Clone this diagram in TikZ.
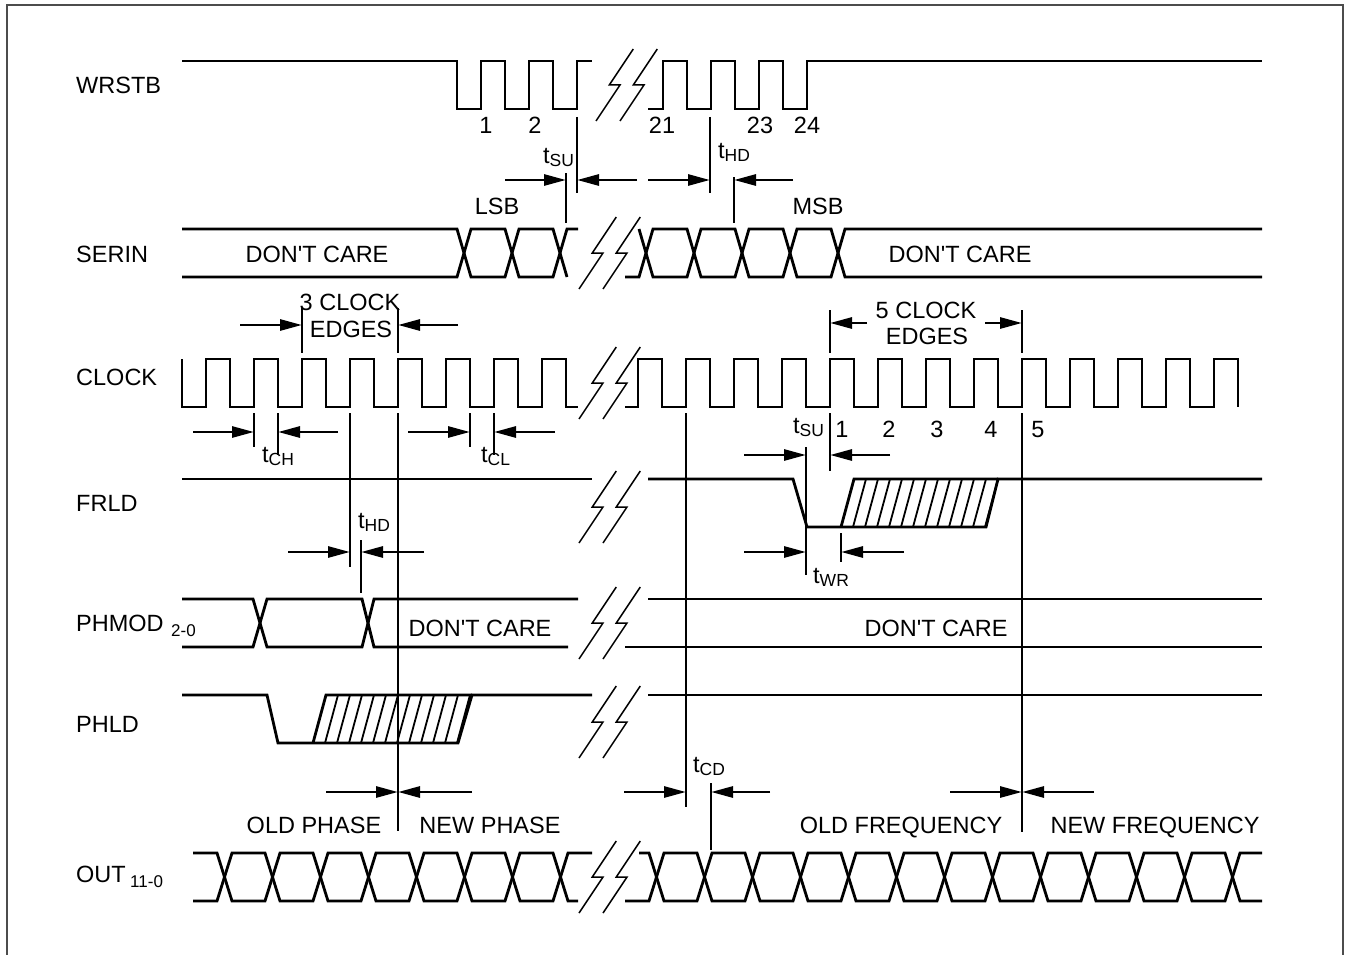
\documentclass[tikz,border=0pt]{standalone}
\usepackage{fontspec}
\setmainfont{Liberation Sans}[Ligatures=TeXOff]
\usetikzlibrary{arrows.meta}
\newcommand\tsub[1]{t\raisebox{-3pt}{\fontsize{17.5}{17.5}\selectfont #1}}
\newcommand\dontcare{DON'T CARE}
\newcommand\brkmark[2]{%
  \draw[brk] (#1,#2+36) -- (#1+24,#2) -- (#1+13.3,#2) -- (#1+37.3,#2-36);
  \draw[brk] (#1+24,#2+36) -- (#1+48,#2) -- (#1+37.3,#2) -- (#1+61.3,#2-36);}
\begin{document}
\begin{tikzpicture}[x=1pt,y=-1pt,
  sig/.style={line width=2.8pt, line join=miter},
  thin/.style={line width=1.2pt},
  brk/.style={line width=1.5pt},
  hatch/.style={line width=1.8pt},
  dim/.style={line width=2.8pt, -{Triangle[length=22pt,width=11pt]}},
  lbl/.style={inner sep=0pt, anchor=base, font=\fontsize{23.5}{28}\selectfont},
  lblw/.style={inner sep=0pt, anchor=base west, font=\fontsize{23.5}{28}\selectfont}]
\useasboundingbox (0,0) rectangle (1351,955);
\draw[line width=1.5pt, draw=black!70] (7,955) -- (7,5) -- (1343,5) -- (1343,955);

% signal names
\node[lblw] (nWR) at (76,94) {WRSTB};
\node[lblw] (nSE) at (76,262) {SERIN};
\node[lblw] (nCK) at (76,385) {CLOCK};
\node[lblw] (nFR) at (76,511) {FRLD};
\node[lblw] (nPM) at (76,631) {PHMOD};
\node[inner sep=0pt, anchor=base west, font=\fontsize{17}{17}\selectfont] (nPMs) at (171,636) {2-0};
\node[lblw] (nPL) at (76,732) {PHLD};
\node[lblw] (nOU) at (76,882) {OUT};
\node[inner sep=0pt, anchor=base west, font=\fontsize{17}{17}\selectfont] (nOUs) at (130,887) {11-0};

% WRSTB
\draw[sig] (182,61) -- (457,61) -- (457,109) -- (481,109) -- (481,61) -- (505,61) -- (505,109) -- (529,109) -- (529,61) -- (553,61) -- (553,109) -- (577,109) -- (577,61) -- (592,61);
\draw[sig] (648,109) -- (663,109) -- (663,61) -- (687,61) -- (687,109) -- (711,109) -- (711,61) -- (735,61) -- (735,109) -- (759,109) -- (759,61) -- (783,61) -- (783,109) -- (807,109) -- (807,61) -- (1262,61);
\brkmark{596}{85}
\node[lbl] (w1) at (486,134) {1};
\node[lbl] (w2) at (535,134) {2};
\node[lbl] (w21) at (662,134) {21};
\node[lbl] (w23) at (760,134) {23};
\node[lbl] (w24) at (807,134) {24};

% tSU / tHD (WRSTB-SERIN)
\draw[thin] (566,173) -- (566,223);
\draw[thin] (577,117) -- (577,193);
\draw[thin] (710,117) -- (710,193);
\draw[thin] (734,177) -- (734,223);
\draw[dim] (505,180) -- (566,180);
\draw[dim] (637,180) -- (577,180);
\draw[dim] (648,180) -- (710,180);
\draw[dim] (793,180) -- (734,180);
\node[lblw] (tsu1) at (543,163) {\tsub{SU}};
\node[lblw] (thd1) at (718,158) {\tsub{HD}};

% SERIN
\node[lbl] (lsb) at (497,214) {LSB};
\node[lbl] (msb) at (818,214) {MSB};
\draw[sig] (182,229) -- (457,229) -- (471,277) -- (505,277) -- (519,229) -- (553,229) -- (567,277);
\draw[sig] (182,277) -- (457,277) -- (471,229) -- (505,229) -- (519,277) -- (553,277) -- (567,229) -- (578,229);
\draw[sig] (625,277) -- (639,277) -- (653,229) -- (687,229) -- (701,277) -- (735,277) -- (749,229) -- (783,229) -- (797,277) -- (831,277) -- (845,229) -- (1262,229);
\draw[sig] (639,229) -- (653,277) -- (687,277) -- (701,229) -- (735,229) -- (749,277) -- (783,277) -- (797,229) -- (831,229) -- (845,277) -- (1262,277);
\brkmark{579}{253}
\node[lbl] (dc1) at (317,262) {\dontcare};
\node[lbl] (dc2) at (960,262) {\dontcare};

% CLOCK EDGES labels
\node[lbl] (c3a) at (350,310) {3 CLOCK};
\node[lbl] (c3b) at (351,337) {EDGES};
\draw[thin] (302,308) -- (302,353);
\draw[thin] (398,308) -- (398,353);
\draw[dim] (240,325) -- (302,325);
\draw[dim] (458,325) -- (398,325);
\node[lbl] (c5a) at (926,318) {5 CLOCK};
\node[lbl] (c5b) at (927,344) {EDGES};
\draw[thin] (830,310) -- (830,353);
\draw[thin] (1022,310) -- (1022,353);
\draw[dim] (867,323) -- (830,323);
\draw[dim] (985,323) -- (1022,323);

% CLOCK
\draw[sig] (182,359) -- (182,407) \foreach \k in {0,...,7}{ -- ({206+48*\k},407) -- ({206+48*\k},359) -- ({230+48*\k},359) -- ({230+48*\k},407)} -- (578,407);
\draw[sig] (625,407) \foreach \k in {0,...,12}{ -- ({638+48*\k},407) -- ({638+48*\k},359) -- ({662+48*\k},359) -- ({662+48*\k},407)};
\brkmark{579}{383}

% tCH, tCL
\draw[thin] (254,413) -- (254,447);
\draw[thin] (278,413) -- (278,455);
\draw[thin] (470,413) -- (470,447);
\draw[thin] (494,413) -- (494,455);
\draw[dim] (193,432) -- (254,432);
\draw[dim] (338,432) -- (278,432);
\draw[dim] (408,432) -- (470,432);
\draw[dim] (555,432) -- (494,432);
\node[lblw] (tch) at (262,462) {\tsub{CH}};
\node[lblw] (tcl) at (481,462) {\tsub{CL}};

% long verticals
\draw[thin] (350,413) -- (350,567);
\draw[thin] (398,413) -- (398,831);
\draw[thin] (361,540) -- (361,593);
\draw[thin] (686,413) -- (686,807);
\draw[thin] (1022,413) -- (1022,832);
\draw[thin] (830,413) -- (830,471);
\draw[thin] (806,447) -- (806,575);
\draw[thin] (841,533) -- (841,562);
\draw[thin] (711,783) -- (711,850);

% right tSU, numbers
\node[lblw] (tsu2) at (793,433) {\tsub{SU}};
\node[lbl] (e1) at (842,437) {1};
\node[lbl] (e2) at (889,437) {2};
\node[lbl] (e3) at (937,437) {3};
\node[lbl] (e4) at (991,437) {4};
\node[lbl] (e5) at (1038,437) {5};
\draw[dim] (744,455) -- (806,455);
\draw[dim] (890,455) -- (830,455);

% FRLD
\draw[sig] (182,479) -- (592,479);
\draw[sig] (648,479) -- (793,479) -- (807,527) -- (986,527) -- (998,479) -- (1262,479);
\draw[sig] (841,527) -- (854,479) -- (998,479);
\foreach \x in {853,865,...,985}{\draw[hatch] (\x,527) -- (\x+13,479);}
\brkmark{579}{507}

% tHD lower, tWR
\draw[dim] (288,552) -- (350,552);
\draw[dim] (424,552) -- (361,552);
\node[lblw] (thd2) at (358,528) {\tsub{HD}};
\draw[dim] (744,552) -- (806,552);
\draw[dim] (904,552) -- (841,552);
\node[lblw] (twr) at (813,583) {\tsub{WR}};

% PHMOD
\draw[sig] (182,599) -- (253,599) -- (267,647) -- (362,647) -- (374,599) -- (578,599);
\draw[sig] (182,647) -- (253,647) -- (267,599) -- (362,599) -- (374,647) -- (568,647);
\draw[sig] (648,599) -- (1262,599);
\draw[sig] (625,647) -- (1262,647);
\brkmark{579}{623}
\node[lbl] (dc3) at (480,636) {\dontcare};
\node[lbl] (dc4) at (936,636) {\dontcare};

% PHLD
\draw[sig] (182,695) -- (267,695) -- (278,743) -- (458,743) -- (472,695) -- (592,695);
\draw[sig] (313,743) -- (326,695) -- (472,695);
\foreach \x in {325,337,...,457}{\draw[hatch] (\x,743) -- (\x+13,695);}
\draw[sig] (648,695) -- (1262,695);
\brkmark{579}{722}

% OUT timing
\draw[dim] (326,792) -- (398,792);
\draw[dim] (472,792) -- (398,792);
\draw[dim] (624,792) -- (686,792);
\draw[dim] (770,792) -- (711,792);
\draw[dim] (950,792) -- (1022,792);
\draw[dim] (1094,792) -- (1022,792);
\node[lblw] (tcd) at (693,772) {\tsub{CD}};
\node[lbl] (op) at (314,833) {OLD PHASE};
\node[lbl] (np) at (490,833) {NEW PHASE};
\node[lbl] (of) at (901,833) {OLD FREQUENCY};
\node[lbl] (nf) at (1155,833) {NEW FREQUENCY};

% OUT
\draw[sig] (193,853) \foreach \j in {0,...,3}{ -- ({217+96*\j},853) -- ({232+96*\j},901) -- ({265+96*\j},901) -- ({280+96*\j},853)} -- (592,853);
\draw[sig] (193,901) \foreach \j in {0,...,3}{ -- ({217+96*\j},901) -- ({232+96*\j},853) -- ({265+96*\j},853) -- ({280+96*\j},901)} -- (578,901);
\draw[sig] (639,853) \foreach \j in {0,...,5}{ -- ({649+96*\j},853) -- ({664+96*\j},901) -- ({697+96*\j},901) -- ({712+96*\j},853)} -- (1225,853) -- (1240,901) -- (1262,901);
\draw[sig] (625,901) \foreach \j in {0,...,5}{ -- ({649+96*\j},901) -- ({664+96*\j},853) -- ({697+96*\j},853) -- ({712+96*\j},901)} -- (1225,901) -- (1240,853) -- (1262,853);
\brkmark{579}{877}
\end{tikzpicture}
\end{document}
